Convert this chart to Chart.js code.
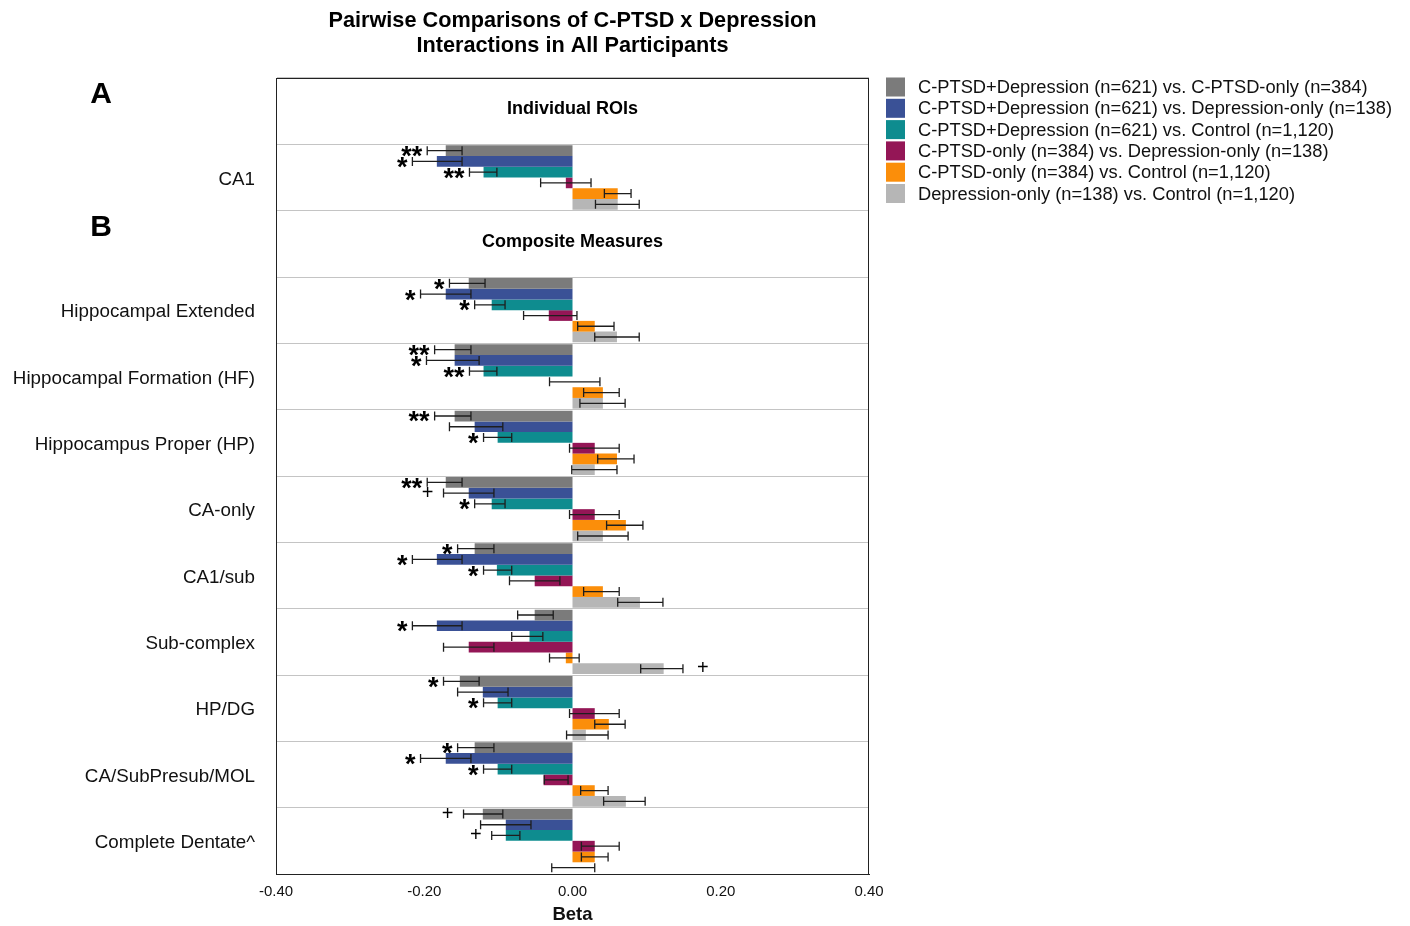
<!DOCTYPE html>
<html><head><meta charset="utf-8">
<script src="https://cdn.jsdelivr.net/npm/chart.js@4.4.1/dist/chart.umd.min.js"></script>
<style>html,body{margin:0;padding:0;background:#fff;}</style>
</head><body>
<canvas id="c" width="1410" height="926" style="display:block;width:1410px;height:926px"></canvas>
<script>
// ---------- DATA ----------
const categories = ['Individual ROIs','CA1','Composite Measures','Hippocampal Extended','Hippocampal Formation (HF)','Hippocampus Proper (HP)','CA-only','CA1/sub','Sub-complex','HP/DG','CA/SubPresub/MOL','Complete Dentate^'];
const headerRows = ['Individual ROIs','Composite Measures'];
const panelLetters = {'Individual ROIs':'A','Composite Measures':'B'};
const seriesNames = [
  'C-PTSD+Depression (n=621) vs. C-PTSD-only (n=384)',
  'C-PTSD+Depression (n=621) vs. Depression-only (n=138)',
  'C-PTSD+Depression (n=621) vs. Control (n=1,120)',
  'C-PTSD-only (n=384) vs. Depression-only (n=138)',
  'C-PTSD-only (n=384) vs. Control (n=1,120)',
  'Depression-only (n=138) vs. Control (n=1,120)'
];
const seriesColors = ['#7b7b7b','#3a5196','#0e8c8f','#941656','#fb8e0a','#b6b6b6'];

// betas (null = header row)
const dep_vs_ptsd      = [null,-0.171,null,-0.140,-0.159,-0.159,-0.171,-0.132,-0.051,-0.152,-0.132,-0.121];
const dep_vs_ptsd_lo   = [null,-0.196,null,-0.166,-0.186,-0.186,-0.196,-0.155,-0.074,-0.174,-0.155,-0.147];
const dep_vs_ptsd_hi   = [null,-0.149,null,-0.118,-0.137,-0.137,-0.149,-0.106,-0.026,-0.126,-0.106,-0.094];
const dep_vs_ptsd_sig  = ['','**','','*','**','**','**','*','','*','*','+'];

const both_vs_deponly     = [null,-0.183,null,-0.171,-0.159,-0.132,-0.140,-0.183,-0.183,-0.121,-0.171,-0.090];
const both_vs_deponly_lo  = [null,-0.216,null,-0.205,-0.197,-0.166,-0.174,-0.216,-0.216,-0.155,-0.205,-0.124];
const both_vs_deponly_hi  = [null,-0.149,null,-0.137,-0.126,-0.094,-0.106,-0.149,-0.149,-0.087,-0.137,-0.056];
const both_vs_deponly_sig = ['','*','','*','*','','+','*','*','','*',''];

const both_vs_ctrl     = [null,-0.120,null,-0.109,-0.120,-0.101,-0.109,-0.102,-0.058,-0.101,-0.101,-0.090];
const both_vs_ctrl_lo  = [null,-0.139,null,-0.132,-0.139,-0.120,-0.132,-0.120,-0.082,-0.120,-0.120,-0.109];
const both_vs_ctrl_hi  = [null,-0.102,null,-0.091,-0.102,-0.082,-0.091,-0.082,-0.040,-0.082,-0.082,-0.071];
const both_vs_ctrl_sig = ['','**','','*','**','*','*','*','','*','*','+'];

const ptsd_vs_dep      = [null,-0.009,null,-0.032,0.000,0.030,0.030,-0.051,-0.140,0.030,-0.039,0.030];
const ptsd_vs_dep_lo   = [null,-0.043,null,-0.066,-0.031,-0.004,-0.004,-0.085,-0.174,-0.004,-0.038,0.012];
const ptsd_vs_dep_hi   = [null,0.025,null,0.006,0.037,0.063,0.063,-0.017,-0.106,0.063,-0.006,0.063];
const ptsd_vs_dep_sig  = ['','','','','','','','','','','',''];

const ptsd_vs_ctrl     = [null,0.061,null,0.030,0.041,0.060,0.072,0.041,-0.009,0.049,0.030,0.030];
const ptsd_vs_ctrl_lo  = [null,0.043,null,0.007,0.015,0.034,0.046,0.015,-0.031,0.030,0.011,0.012];
const ptsd_vs_ctrl_hi  = [null,0.079,null,0.056,0.063,0.083,0.095,0.063,0.009,0.071,0.048,0.048];
const ptsd_vs_ctrl_sig = ['','','','','','','','','','','',''];

const deponly_vs_ctrl     = [null,0.061,null,0.060,0.041,0.030,0.041,0.091,0.123,0.018,0.072,0.000];
const deponly_vs_ctrl_lo  = [null,0.031,null,0.030,0.010,-0.001,0.007,0.061,0.092,-0.008,0.042,-0.028];
const deponly_vs_ctrl_hi  = [null,0.090,null,0.090,0.071,0.060,0.075,0.122,0.149,0.048,0.098,0.030];
const deponly_vs_ctrl_sig = ['','','','','','','','','+','','',''];

const xTicks = [-0.40,-0.20,0.00,0.20,0.40];
const xTitle = 'Beta';
const chartTitle = ['Pairwise Comparisons of C-PTSD x Depression','Interactions in All Participants'];

// ---------- BUILD ----------
const FONT = "'Liberation Sans', Arial, Helvetica, sans-serif";
const allVals = [dep_vs_ptsd,both_vs_deponly,both_vs_ctrl,ptsd_vs_dep,ptsd_vs_ctrl,deponly_vs_ctrl];
const allLo = [dep_vs_ptsd_lo,both_vs_deponly_lo,both_vs_ctrl_lo,ptsd_vs_dep_lo,ptsd_vs_ctrl_lo,deponly_vs_ctrl_lo];
const allHi = [dep_vs_ptsd_hi,both_vs_deponly_hi,both_vs_ctrl_hi,ptsd_vs_dep_hi,ptsd_vs_ctrl_hi,deponly_vs_ctrl_hi];
const allSig = [dep_vs_ptsd_sig,both_vs_deponly_sig,both_vs_ctrl_sig,ptsd_vs_dep_sig,ptsd_vs_ctrl_sig,deponly_vs_ctrl_sig];

const datasets = seriesNames.map((n,k)=>({
  label:n, data:allVals[k], lo:allLo[k], hi:allHi[k], sig:allSig[k],
  backgroundColor:seriesColors[k], borderWidth:0,
  categoryPercentage:0.97, barPercentage:1.0
}));

const overlay = {
  id:'overlay',
  afterDatasetsDraw(chart){
    const ctx=chart.ctx, xs=chart.scales.x;
    ctx.save();
    chart.data.datasets.forEach((ds,di)=>{
      const meta=chart.getDatasetMeta(di);
      meta.data.forEach((el,i)=>{
        const lo=ds.lo[i], hi=ds.hi[i];
        if(lo==null||hi==null) return;
        const y=el.y, x1=xs.getPixelForValue(lo), x2=xs.getPixelForValue(hi);
        ctx.strokeStyle='#1e1e1e'; ctx.lineWidth=1.3;
        ctx.beginPath();
        ctx.moveTo(x1,y); ctx.lineTo(x2,y);
        ctx.moveTo(x1,y-4.5); ctx.lineTo(x1,y+4.5);
        ctx.moveTo(x2,y-4.5); ctx.lineTo(x2,y+4.5);
        ctx.stroke();
        const s=ds.sig[i];
        if(s){
          ctx.fillStyle='#000';
          const neg = ds.data[i] < 0;
          if(s==='+'){
            ctx.font='20px '+FONT; ctx.textBaseline='middle';
            if(neg){ctx.textAlign='right'; ctx.fillText(s,x1-10,y);}
            else {ctx.textAlign='left'; ctx.fillText(s,x2+14,y);}
          } else {
            ctx.font='bold 27px '+FONT; ctx.textBaseline='middle';
            if(neg){ctx.textAlign='right'; ctx.fillText(s,x1-5,y+7);}
            else {ctx.textAlign='left'; ctx.fillText(s,x2+5,y+7);}
          }
        }
      });
    });
    ctx.restore();
  },
  afterDraw(chart){
    const ctx=chart.ctx, a=chart.chartArea, ys=chart.scales.y;
    ctx.save();
    // plot border
    ctx.strokeStyle='#222'; ctx.lineWidth=1;
    ctx.strokeRect(a.left+0.5,a.top+0.5,a.right-a.left-1,a.bottom-a.top);
    const cx=(a.left+a.right)/2;
    // title
    ctx.fillStyle='#000'; ctx.textAlign='center'; ctx.textBaseline='middle';
    ctx.font='bold 21.7px '+FONT;
    ctx.fillText(chartTitle[0],cx,21);
    ctx.fillText(chartTitle[1],cx,46);
    // headers and panel letters
    categories.forEach((c,i)=>{
      if(headerRows.includes(c)){
        const y=ys.getPixelForValue(i);
        ctx.font='bold 18px '+FONT; ctx.textAlign='center';
        ctx.fillText(c,cx,y-2);
        ctx.font='bold 30px '+FONT;
        ctx.fillText(panelLetters[c],101,y-16);
      }
    });
    // legend
    ctx.textAlign='left'; ctx.font='18.3px '+FONT;
    seriesNames.forEach((n,k)=>{
      const yy=87+k*21.3;
      ctx.fillStyle=seriesColors[k];
      ctx.fillRect(886,yy-9.5,19,19);
      ctx.fillStyle='#111';
      ctx.fillText(n,918,yy+1);
    });
    ctx.restore();
  }
};

new Chart(document.getElementById('c'),{
  type:'bar',
  data:{labels:categories,datasets},
  options:{
    indexAxis:'y', responsive:false, animation:false, devicePixelRatio:1,
    layout:{padding:{left:0,right:541,top:78,bottom:0}},
    plugins:{legend:{display:false},title:{display:false},tooltip:{enabled:false}},
    scales:{
      x:{
        min:-0.4,max:0.4,
        afterBuildTicks(s){ s.ticks = xTicks.map(v=>({value:v})); },
        afterFit(s){ s.height=52; },
        grid:{display:false,drawTicks:false},
        border:{display:true,color:'#222'},
        ticks:{padding:9,color:'#111',font:{family:FONT,size:15},callback:v=>Number(v).toFixed(2)},
        title:{display:true,text:xTitle,color:'#111',font:{family:FONT,size:18.5,weight:'bold'},padding:{top:4,bottom:0}}
      },
      y:{
        afterFit(s){ s.width=276; },
        grid:{color:'#c4c4c4',lineWidth:1,drawTicks:false,offset:true},
        border:{display:true,color:'#222'},
        ticks:{padding:21,labelOffset:2,color:'#111',font:{family:FONT,size:18.8},autoSkip:false,
          callback:(v,i)=> headerRows.includes(categories[i]) ? '' : categories[i]}
      }
    }
  },
  plugins:[overlay]
});
</script>
</body></html>
